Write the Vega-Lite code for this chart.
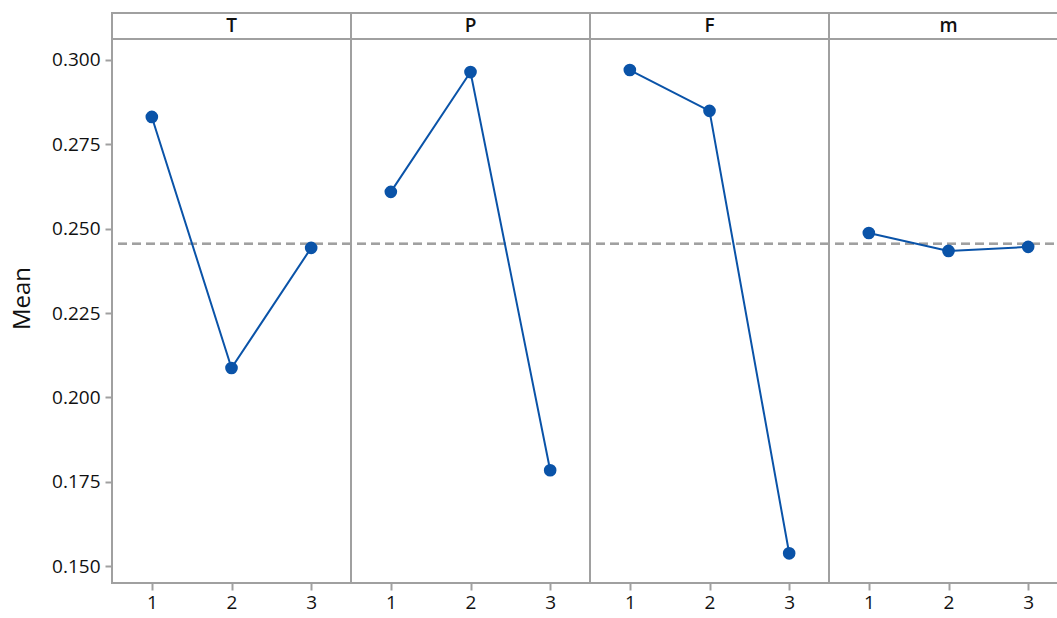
{
  "$schema": "https://vega.github.io/schema/vega-lite/v6.json",
  "padding": {"left": 10, "top": 12, "right": 0, "bottom": 6},
  "background": "white",
  "config": {
    "font": "Open Sans",
    "view": {"stroke": "#a0a0a0", "strokeWidth": 2},
    "axis": {
      "grid": false,
      "domain": false,
      "tickColor": "#a0a0a0",
      "tickWidth": 2,
      "tickSize": 7,
      "labelFont": "Open Sans",
      "labelFontSize": 19,
      "labelColor": "#111111",
      "titleFont": "Open Sans",
      "titleFontWeight": "normal",
      "titleColor": "#111111"
    }
  },
  "data": {
    "values": [
      {"factor": "T", "level": 1, "mean": 0.2831},
      {"factor": "T", "level": 2, "mean": 0.2087},
      {"factor": "T", "level": 3, "mean": 0.2443},
      {"factor": "P", "level": 1, "mean": 0.2609},
      {"factor": "P", "level": 2, "mean": 0.2964},
      {"factor": "P", "level": 3, "mean": 0.1784},
      {"factor": "F", "level": 1, "mean": 0.2970},
      {"factor": "F", "level": 2, "mean": 0.2849},
      {"factor": "F", "level": 3, "mean": 0.1538},
      {"factor": "m", "level": 1, "mean": 0.2487},
      {"factor": "m", "level": 2, "mean": 0.2434},
      {"factor": "m", "level": 3, "mean": 0.2446}
    ]
  },
  "facet": {
    "column": {"field": "factor", "sort": ["T", "P", "F", "m"], "header": {"labels": false, "title": null}}
  },
  "spacing": 0,
  "bounds": "flush",
  "spec": {
    "width": 239,
    "height": 570,
    "layer": [
      {
        "mark": {"type": "rule", "color": "#a0a0a0", "strokeWidth": 2, "strokeDash": [9, 5]},
        "encoding": {"y": {"datum": 0.2455, "type": "quantitative", "scale": {"domain": [0.145, 0.3139], "nice": false, "zero": false}}}
      },
      {
        "mark": {"type": "rule", "color": "#a0a0a0", "strokeWidth": 2},
        "encoding": {"y": {"datum": 0.3062, "type": "quantitative"}}
      },
      {
        "transform": [{"filter": "datum.level == 1"}],
        "mark": {"type": "text", "fontSize": 19, "fontWeight": 600, "font": "Open Sans", "color": "#111111", "baseline": "middle"},
        "encoding": {
          "y": {"datum": 0.3101, "type": "quantitative"},
          "text": {"field": "factor"}
        }
      },
      {
        "mark": {"type": "line", "color": "#0a53a8", "strokeWidth": 2},
        "encoding": {
          "x": {"field": "level", "type": "quantitative", "scale": {"domain": [0.5, 3.5], "nice": false, "zero": false},
                "axis": {"values": [1, 2, 3], "format": "d", "title": null, "labelPadding": 3}},
          "y": {"field": "mean", "type": "quantitative", "scale": {"domain": [0.145, 0.3139], "nice": false, "zero": false},
                "axis": {"values": [0.15, 0.175, 0.2, 0.225, 0.25, 0.275, 0.3], "format": ".3f", "title": "Mean", "titleFontSize": 24, "titlePadding": 17, "labelPadding": 5}}
        }
      },
      {
        "mark": {"type": "point", "filled": true, "color": "#0a53a8", "opacity": 1, "size": 160},
        "encoding": {
          "x": {"field": "level", "type": "quantitative"},
          "y": {"field": "mean", "type": "quantitative"}
        }
      }
    ]
  }
}
